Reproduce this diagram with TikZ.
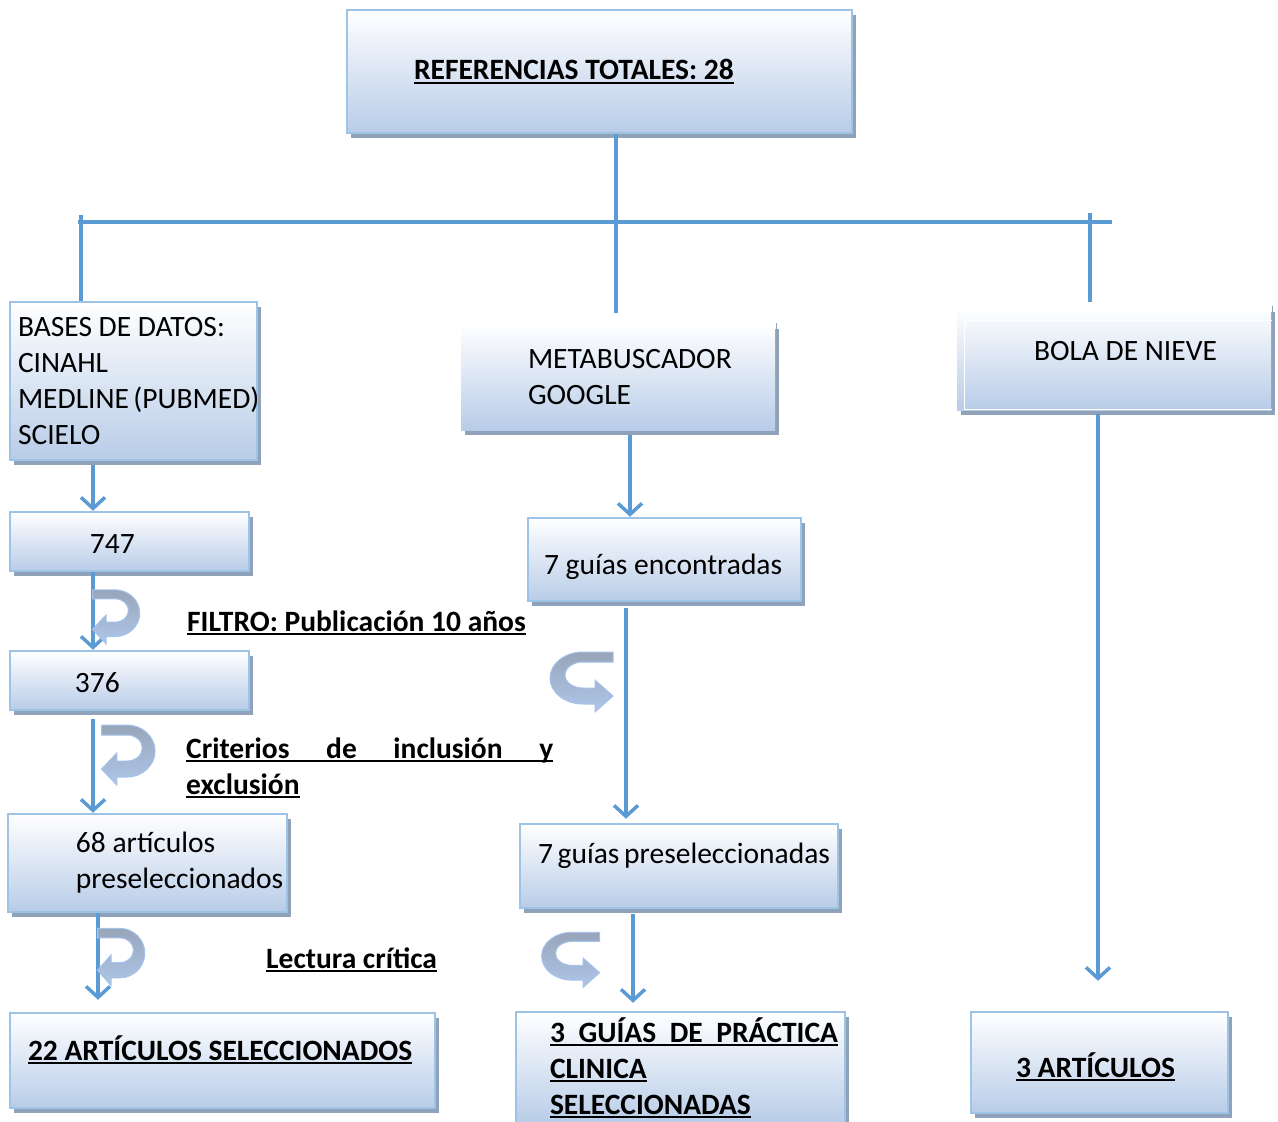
\documentclass[tikz,border=0pt]{standalone}
\usepackage{fontspec}
\setmainfont{Carlito}
\usetikzlibrary{arrows.meta,shadows}
\definecolor{linkblue}{HTML}{5B9BD5}
\definecolor{boxedge}{HTML}{9DC3E6}
\definecolor{boxfill}{HTML}{B8CCE8}
\definecolor{boxshadow}{HTML}{8FA2B9}
\definecolor{turngray}{HTML}{98A5BA}
\definecolor{turnblue}{HTML}{AEC6E8}
\definecolor{turnedge}{HTML}{A4C2EA}
\newcommand{\lineunder}[1]{\setbox0=\hbox{#1}\rlap{\rule[-4pt]{\wd0}{2pt}}\box0}
\tikzset{
  box/.style={
    draw=boxedge,
    line width=2.5pt,
    top color=white,
    bottom color=boxfill,
    drop shadow={shadow xshift=4pt, shadow yshift=-5pt, fill=boxshadow, opacity=1},
    align=flush left,
    inner xsep=8pt,
    inner ysep=0pt,
    font=\fontsize{29.5}{36}\selectfont
  },
  softbox/.style={
    box,
    draw=none
  },
  note/.style={
    inner sep=0pt,
    align=flush left,
    font=\fontsize{29.5}{36}\selectfont\bfseries
  },
  link/.style={
    draw=linkblue,
    line width=3.5pt
  },
  flow/.style={
    link,
    -{Straight Barb[length=11pt,width=24pt]}
  },
  turnarrow/.pic={
    \path[top color=turngray, bottom color=turnblue, draw=turnedge, line width=1pt]
      (30,-28) -- (0,-28) arc[start angle=270, end angle=90, x radius=33, y radius=26]
      -- (12,24) -- (12,32) -- (30,16) -- (12,0) -- (12,8) -- (0,8)
      arc[start angle=90, end angle=270, x radius=18, y radius=13]
      -- (30,-18) -- cycle;
  }
}

\begin{document}
\begin{tikzpicture}[x=1pt, y=-1pt]
  \useasboundingbox (0,0) rectangle (1278,1122);

  % cajas
  \node[box, text width=489pt, minimum height=123pt] (refs) at (599.5,71.5)
    {\hspace*{59pt}\bfseries\lineunder{REFERENCIAS TOTALES: 28}};
  \node[box, text width=231pt, minimum height=158pt] (bases) at (133.5,381)
    {BASES DE DATOS:\\CINAHL\\MEDLINE~(PUBMED)\\SCIELO};
  \node[softbox, text width=298pt, minimum height=106pt] (meta) at (618,377)
    {\hspace*{59pt}METABUSCADOR\\\hspace*{59pt}GOOGLE};
  \node[softbox, text width=298pt, minimum height=103pt, text depth=16pt] (bola) at (1114,358.5)
    {\hspace*{69pt}BOLA DE NIEVE};

  \node[box, text width=223pt, minimum height=59pt, text height=29pt, text depth=6pt] (n747) at (129.5,541.5)
    {\hspace*{72pt}747};
  \node[box, text width=223pt, minimum height=59pt, text height=29pt, text depth=6pt] (n376) at (129.5,680.5)
    {\hspace*{57pt}376};
  \node[box, text width=263pt, minimum height=98pt] (n68) at (147.5,863)
    {\hspace*{60pt}68~artículos\\\hspace*{60pt}\mbox{preseleccionados}};
  \node[box, text width=409pt, minimum height=95pt, text depth=25pt] (n22) at (222.5,1060.5)
    {\hspace*{10pt}\bfseries\lineunder{22 ARTÍCULOS SELECCIONADOS}};

  \node[box, text width=257pt, minimum height=83pt, text height=35pt, text depth=6pt] (enc) at (664.5,559.5)
    {\hspace*{8pt}7~guías~encontradas};
  \node[box, text width=302pt, minimum height=84pt, text depth=26pt] (pre) at (679,866)
    {\hspace*{10pt}7~guías~preseleccionadas};
  \node[box, text width=313pt, minimum height=112pt] (guias3) at (680.5,1068)
    {\bfseries\hspace*{26pt}\lineunder{\makebox[288pt]{3\hfill GUÍAS\hfill DE\hfill PRÁCTICA}}\\
     \hspace*{26pt}\lineunder{CLINICA}\\\hspace*{26pt}\lineunder{SELECCIONADAS}};
  \node[box, text width=241pt, minimum height=101pt, text height=35pt, text depth=6pt] (art3) at (1099.5,1062.5)
    {\hspace*{37pt}\bfseries\lineunder{3 ARTÍCULOS}};

  % detalles de las cajas sin borde
  \draw[white, line width=1.2pt] ([shift={(9,15)}]bola.north west) rectangle ([shift={(0,-2)}]bola.south east);
  \draw[boxshadow, line width=1.5pt] (bola.north east) -- (bola.south east);
  \draw[boxshadow, line width=1.5pt] (meta.north east) -- (meta.south east);

  % textos de filtro
  \node[note, anchor=base west] (filtro) at (187,631) {\lineunder{FILTRO: Publicación 10 años}};
  \node[note, anchor=west] (criterios) at (186,768)
    {\lineunder{\makebox[367pt]{Criterios\hfill de\hfill inclusión\hfill y}}\\\lineunder{exclusión}};
  \node[note, anchor=base west] (lectura) at (266,968) {\lineunder{Lectura crítica}};

  % ramas superiores
  \coordinate (xt) at (616,0);
  \coordinate (busL) at (78,222);
  \coordinate (busR) at (1112,222);
  \coordinate (dropL) at (81,215);
  \coordinate (dropR) at (1090,213);
  \draw[link, shorten >=10pt] (refs.south -| xt) -- (meta.north -| xt);
  \draw[link] (busL) -- (busR);
  \draw[link] (dropL) -- (dropL |- bases.north);
  \draw[link, shorten >=4pt] (dropR) -- (dropR |- bola.north);

  % flechas por columna
  \coordinate (xa) at (93,0);
  \coordinate (xb) at (98,0);
  \coordinate (xm) at (630,0);
  \coordinate (xn) at (626,0);
  \coordinate (xo) at (633,0);
  \coordinate (xr) at (1098,0);
  \draw[flow, shorten <=4pt] (bases.south -| xa) -- (n747.north -| xa);
  \draw[flow] (n747.south -| xa) -- (n376.north -| xa);
  \draw[flow, shorten <=8pt] (n376.south -| xa) -- (n68.north -| xa);
  \draw[flow, shorten >=12pt] (n68.south -| xb) -- (n22.north -| xb);
  \draw[flow, shorten <=4pt] (meta.south -| xm) -- (enc.north -| xm);
  \draw[flow, shorten <=6pt, shorten >=4pt] (enc.south -| xn) -- (pre.north -| xn);
  \draw[flow, shorten <=5pt, shorten >=8pt] (pre.south -| xo) -- (guias3.north -| xo);
  \draw[flow, shorten <=3pt, shorten >=30pt] (bola.south -| xr) -- (art3.north -| xr);

  % flechas curvas
  \pic[xscale=-0.75, yscale=0.9] at (115,615) {turnarrow};
  \pic[xscale=-0.85] at (127,753) {turnarrow};
  \pic[xscale=-0.75, yscale=0.95] at (120,955) {turnarrow};
  \pic at (583,680) {turnarrow};
  \pic[scale=0.92] at (572,958) {turnarrow};
\end{tikzpicture}
\end{document}
